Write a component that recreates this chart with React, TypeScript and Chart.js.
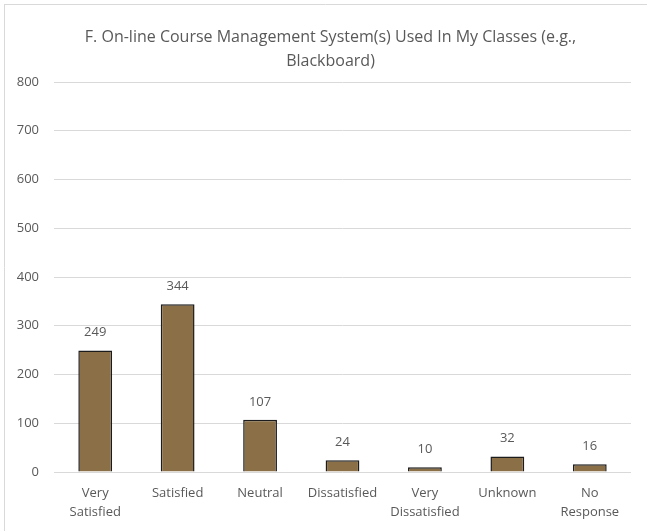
import React, { useEffect, useRef } from "react";
import { Chart, registerables } from "chart.js";

Chart.register(...registerables);

const titleLines = ["F. On-line Course Management System(s) Used In My Classes (e.g.,", "Blackboard)"];
const categories: (string | string[])[] = [
  ["Very", "Satisfied"],
  "Satisfied",
  "Neutral",
  "Dissatisfied",
  ["Very", "Dissatisfied"],
  "Unknown",
  ["No", "Response"],
];
const counts = [249, 344, 107, 24, 10, 32, 16];
const yTicks = [0, 100, 200, 300, 400, 500, 600, 700, 800];

const FONT = "'Open Sans', 'Noto Sans', sans-serif";
const TEXT = "#595959";

const framePlugin = {
  id: "frame",
  beforeDraw(chart: any) {
    const ctx = chart.ctx;
    ctx.save();
    ctx.fillStyle = "#ffffff";
    ctx.fillRect(0, 0, chart.width, chart.height);
    ctx.strokeStyle = "#d9d9d9";
    ctx.lineWidth = 1;
    ctx.beginPath();
    ctx.moveTo(4.5, 4);
    ctx.lineTo(4.5, chart.height);
    ctx.moveTo(4, 4.5);
    ctx.lineTo(chart.width, 4.5);
    ctx.stroke();
    // chart title, centred on the frame like the reference
    ctx.font = `16px ${FONT}`;
    ctx.fillStyle = TEXT;
    ctx.textAlign = "center";
    ctx.textBaseline = "middle";
    const cx = (4 + chart.width + 10) / 2;
    titleLines.forEach((line, i) => {
      ctx.fillText(line, cx, 37 + i * 24);
    });
    ctx.restore();
  },
};

const valueLabelPlugin = {
  id: "valueLabels",
  afterDatasetsDraw(chart: any) {
    const ctx = chart.ctx;
    const meta = chart.getDatasetMeta(0);
    const data = chart.data.datasets[0].data as number[];
    ctx.save();
    ctx.font = `13px ${FONT}`;
    ctx.fillStyle = TEXT;
    ctx.textAlign = "center";
    ctx.textBaseline = "middle";
    meta.data.forEach((el: any, i: number) => {
      ctx.fillText(String(data[i]), el.x, el.y - 18);
    });
    ctx.restore();
  },
};

export default function App() {
  const ref = useRef<HTMLCanvasElement | null>(null);
  useEffect(() => {
    if (!ref.current) return;
    const chart = new Chart(ref.current, {
      type: "bar",
      data: {
        labels: categories,
        datasets: [
          {
            data: counts,
            backgroundColor: "#8a6f47",
            borderColor: "#1c1c1c",
            borderWidth: 1.5,
            barPercentage: 0.41,
            categoryPercentage: 1,
          },
        ],
      },
      options: {
        animation: false,
        responsive: false,
        maintainAspectRatio: false,
        layout: { padding: { left: 0, right: 16, top: 82, bottom: 0 } },
        plugins: {
          legend: { display: false },
          tooltip: { enabled: false },
          title: { display: false },
        },
        scales: {
          x: {
            grid: { display: false },
            border: { display: false },
            afterFit(scale: any) {
              scale.height = 59;
            },
            ticks: {
              color: TEXT,
              font: { family: FONT, size: 13, lineHeight: 1.45 },
              padding: 4,
              maxRotation: 0,
              autoSkip: false,
            },
          },
          y: {
            min: 0,
            max: 800,
            afterFit(scale: any) {
              scale.width = 54;
            },
            afterBuildTicks(scale: any) {
              scale.ticks = yTicks.map((v) => ({ value: v }));
            },
            grid: { color: "#d9d9d9", drawTicks: false, lineWidth: 1 },
            border: { display: false },
            ticks: {
              color: TEXT,
              font: { family: FONT, size: 13 },
              padding: 15,
            },
          },
        },
      },
      plugins: [framePlugin, valueLabelPlugin],
    });
    return () => chart.destroy();
  }, []);
  return (
    <div style={{ position: "absolute", left: 0, top: 0, width: 647, height: 531 }}>
      <canvas ref={ref} width={647} height={531} style={{ width: 647, height: 531, display: "block" }} />
    </div>
  );
}
